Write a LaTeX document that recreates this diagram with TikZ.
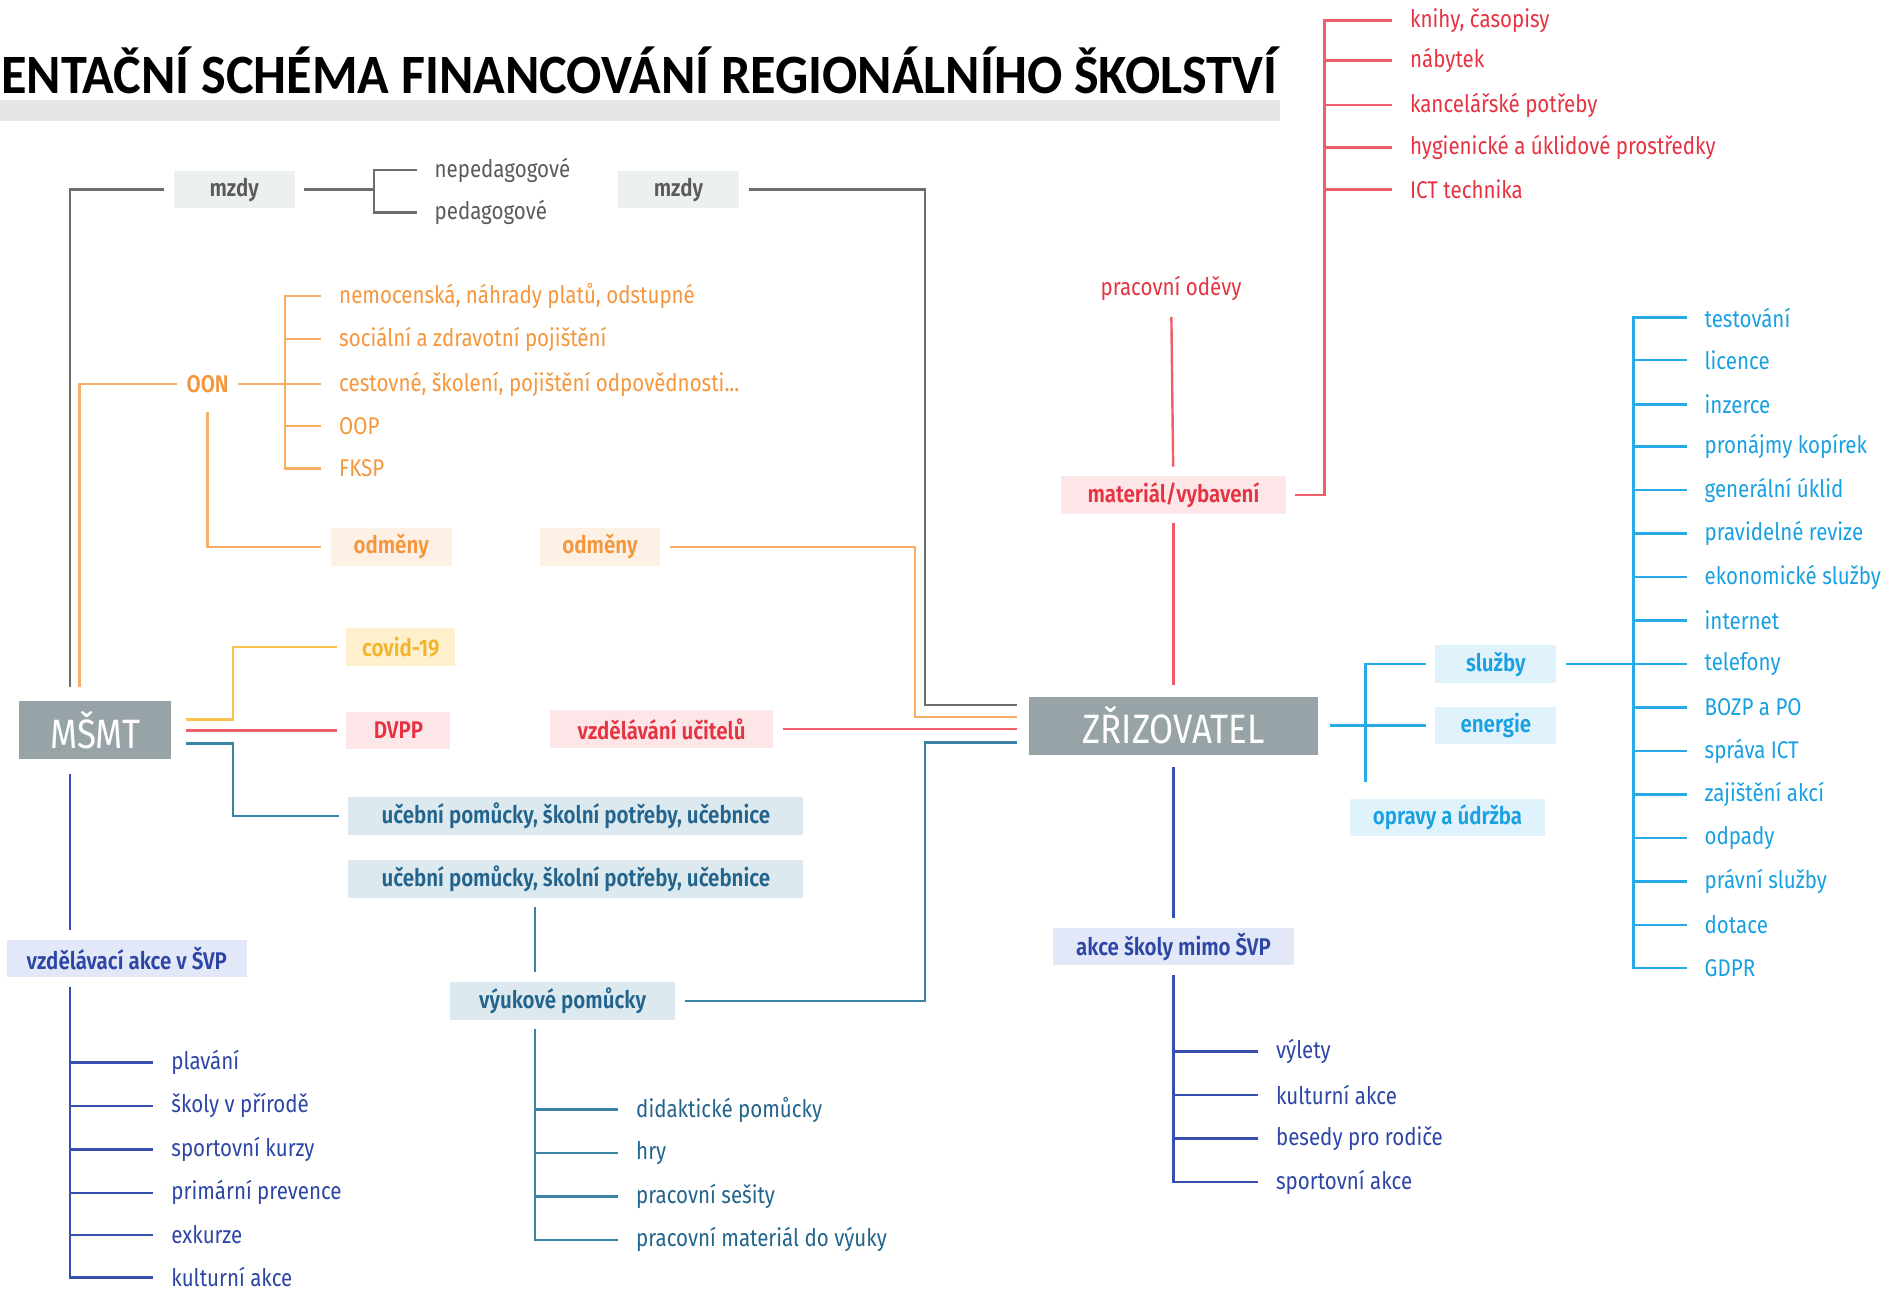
\documentclass[tikz,border=0pt]{standalone}
\usepackage{fontspec}
\setmainfont{Fira Sans}[FakeStretch=0.85,BoldFont={Fira Sans SemiBold}]
\newfontfamily\titlefont{Carlito}[FakeStretch=0.94]

\definecolor{greytxt}{RGB}{90,90,90}
\definecolor{greyline}{RGB}{110,110,110}
\definecolor{greybox}{RGB}{236,240,241}
\definecolor{bigfill}{RGB}{152,163,168}
\definecolor{titlebar}{RGB}{230,230,230}
\definecolor{otxt}{RGB}{245,150,60}
\definecolor{oline}{RGB}{248,175,100}
\definecolor{obox}{RGB}{253,240,228}
\definecolor{ytxt}{RGB}{245,180,40}
\definecolor{yline}{RGB}{250,195,80}
\definecolor{ybox}{RGB}{255,240,205}
\definecolor{rtxt}{RGB}{230,50,65}
\definecolor{rline}{RGB}{240,95,105}
\definecolor{rbox}{RGB}{252,230,232}
\definecolor{ttxt}{RGB}{35,100,140}
\definecolor{tline}{RGB}{60,130,165}
\definecolor{tbox}{RGB}{220,233,239}
\definecolor{itxt}{RGB}{45,70,165}
\definecolor{iline}{RGB}{55,80,175}
\definecolor{ibox}{RGB}{226,232,248}
\definecolor{stxt}{RGB}{25,160,225}
\definecolor{sline}{RGB}{40,170,230}
\definecolor{sbox}{RGB}{224,243,253}

\begin{document}
\begin{tikzpicture}
  [x=0.5pt,y=-0.5pt,line width=1pt,font=\fontsize{10}{12}\selectfont,
   box/.style={rectangle,inner sep=0pt,minimum height=15.5pt,outer sep=4pt,
     font=\fontsize{10}{12}\selectfont\bfseries},
   leaf/.style={anchor=west,inner xsep=7pt,inner ysep=1pt},
   big/.style={rectangle,fill=bigfill,text=white,minimum height=24pt,inner sep=0pt,
     font=\fontsize{17}{19}\selectfont}]
  \useasboundingbox (0,0) rectangle (1568,1073);

  % title
  \fill[titlebar] (0,83) rectangle (1060,100);
  \node[anchor=west,inner sep=0pt,font=\titlefont\fontsize{23}{26}\selectfont\bfseries]
    (title) at (0,58) {ENTAČNÍ SCHÉMA FINANCOVÁNÍ REGIONÁLNÍHO ŠKOLSTVÍ};

  % main blocks
  \node[big,minimum width=63pt,outer sep=6pt] (msmt) at (79,605) {MŠMT};
  \node[big,minimum width=120pt,outer sep=5pt] (zriz) at (972,601) {ZŘIZOVATEL};

  \coordinate (colA) at (58,0);
  \coordinate (colB) at (66,0);
  \coordinate (colY) at (193,0);
  \coordinate (colP) at (443,0);
  \coordinate (colR) at (1097,0);
  \coordinate (colK) at (1353,0);

  % mzdy
  \node[box,fill=greybox,text=greytxt,minimum width=50pt] (mzdyA) at (194,157) {mzdy};
  \node[box,fill=greybox,text=greytxt,minimum width=50pt] (mzdyB) at (562,157) {mzdy};
  \node[leaf,text=greytxt] (nep) at (345,141) {nepedagogové};
  \node[leaf,text=greytxt] (ped) at (345,176) {pedagogové};
  \coordinate (brA) at (310,157);
  \coordinate (zG) at (766,584);
  \draw[greyline] (mzdyA.west) -| (msmt.north -| colA);
  \draw[greyline] (mzdyA.east) -- (brA);
  \draw[greyline] (brA) |- (nep.west);
  \draw[greyline] (brA) |- (ped.west);
  \draw[greyline] (mzdyB.east) -| (zG) -- (zriz.west |- zG);

  % OON
  \node[box,text=otxt] (oon) at (172,318) {OON};
  \foreach \n/\y/\t in {o1/245/{nemocenská, náhrady platů, odstupné},
                        o2/281/sociální a zdravotní pojištění,
                        o3/318/{cestovné, školení, pojištění odpovědnosti...},
                        o4/353/OOP,o5/388/FKSP}
    \node[leaf,text=otxt] (\n) at (266,\y) {\t};
  \coordinate (brO) at (236,318);
  \draw[oline] (oon.west) -| (msmt.north -| colB);
  \draw[oline] (oon.east) -- (brO);
  \foreach \n in {o1,o2,o3,o4,o5}
    \draw[oline] (brO) |- (\n.west);
  \node[box,fill=obox,text=otxt,minimum width=50pt] (odmA) at (324,453) {odměny};
  \node[box,fill=obox,text=otxt,minimum width=50pt] (odmB) at (497,453) {odměny};
  \coordinate (zO) at (758,594);
  \draw[oline] (oon.south) |- (odmA.west);
  \draw[oline] (odmB.east) -| (zO) -- (zriz.west |- zO);

  % covid, DVPP
  \coordinate (rY) at (0,596);
  \node[box,fill=ybox,text=ytxt,minimum width=45pt] (covid) at (332,536) {covid-19};
  \draw[yline] (msmt.east |- rY) -| (colY |- covid) -- (covid.west);
  \node[box,fill=rbox,text=rtxt,minimum width=43pt] (dvpp) at (330,605) {DVPP};
  \node[box,fill=rbox,text=rtxt,minimum width=92.5pt] (vzu) at (548,604) {vzdělávání učitelů};
  \draw[rline] (msmt.east |- dvpp.west) -- (dvpp.west);
  \draw[rline] (vzu.east) -- (zriz.west |- vzu.east);

  % material
  \node[box,text=rtxt,font=\fontsize{10}{12}\selectfont] (odevy) at (970,239) {pracovní oděvy};
  \node[box,fill=rbox,text=rtxt,minimum width=93pt] (mat) at (972,410) {materiál/vybavení};
  \foreach \n/\y/\t in {r1/17/{knihy, časopisy},r2/50/nábytek,r3/87/kancelářské potřeby,
                        r4/122/hygienické a úklidové prostředky,r5/157/ICT technika}
    \node[leaf,text=rtxt] (\n) at (1153,\y) {\t};
  \draw[rline] (odevy) -- (mat);
  \draw[rline] (mat) -- (zriz);
  \draw[rline] (mat.east) -| (colR |- r1.west) -- (r1.west);
  \foreach \n in {r2,r3,r4,r5}
    \draw[rline] (colR |- \n.west) -- (\n.west);

  % ucebni pomucky
  \coordinate (rT) at (0,616);
  \coordinate (zT) at (766,615);
  \node[box,fill=tbox,text=ttxt,minimum width=188.5pt] (ucA) at (477,676) {učební pomůcky, školní potřeby, učebnice};
  \node[box,fill=tbox,text=ttxt,minimum width=188.5pt] (ucB) at (477,728) {učební pomůcky, školní potřeby, učebnice};
  \node[box,fill=tbox,text=ttxt,minimum width=93pt] (vyuk) at (466,829) {výukové pomůcky};
  \foreach \n/\y/\t in {p1/919/didaktické pomůcky,p2/955/hry,p3/991/pracovní sešity,
                        p4/1027/pracovní materiál do výuky}
    \node[leaf,text=ttxt] (\n) at (512,\y) {\t};
  \draw[tline] (msmt.east |- rT) -| (colY |- ucA) -- (ucA.west);
  \draw[tline] (ucB.south -| colP) -- (vyuk.north -| colP);
  \draw[tline] (vyuk.east) -| (zT) -- (zriz.west |- zT);
  \foreach \n in {p1,p2,p3,p4}
    \draw[tline] (vyuk.south -| colP) |- (\n.west);

  % akce
  \node[box,fill=ibox,text=itxt,minimum width=99.5pt] (vzak) at (105,794) {vzdělávací akce v ŠVP};
  \node[box,fill=ibox,text=itxt,minimum width=99.5pt] (akce) at (972,784) {akce školy mimo ŠVP};
  \foreach \n/\y/\t in {a1/880/plavání,a2/916/školy v přírodě,a3/952/sportovní kurzy,
                        a4/988/primární prevence,a5/1023/exkurze,a6/1058/kulturní akce}
    \node[leaf,text=itxt] (\n) at (127,\y) {\t};
  \foreach \n/\y/\t in {z1/871/výlety,z2/907/kulturní akce,z3/943/besedy pro rodiče,
                        z4/979/sportovní akce}
    \node[leaf,text=itxt] (\n) at (1042,\y) {\t};
  \draw[iline] (msmt.south -| colA) -- (vzak.north -| colA);
  \foreach \n in {a1,a2,a3,a4,a5,a6}
    \draw[iline] (vzak.south -| colA) |- (\n.west);
  \draw[iline] (zriz) -- (akce);
  \foreach \n in {z1,z2,z3,z4}
    \draw[iline] (akce.south) |- (\n.west);

  % sluzby
  \coordinate (sEnd) at (1131,648);
  \node[box,fill=sbox,text=stxt,minimum width=50pt] (sluzby) at (1239,550) {služby};
  \node[box,fill=sbox,text=stxt,minimum width=50pt] (energie) at (1239,601) {energie};
  \node[box,fill=sbox,text=stxt,minimum width=80.5pt] (opravy) at (1199,677) {opravy a údržba};
  \foreach \n/\y/\t in {s1/263/testování,s2/298/licence,s3/335/inzerce,s4/370/pronájmy kopírek,
                        s5/406/generální úklid,s6/442/pravidelné revize,s7/478/ekonomické služby,
                        s8/514/internet,s9/550/telefony,s10/586/BOZP a PO,s11/622/správa ICT,
                        s12/658/zajištění akcí,s13/694/odpady,s14/730/právní služby,
                        s15/766/dotace,s16/802/GDPR}
    \node[leaf,text=stxt] (\n) at (1397,\y) {\t};
  \draw[sline] (zriz.east) -- (energie.west);
  \draw[sline] (sluzby.west) -| (sEnd);
  \draw[sline] (sluzby.east) -- (s9.west);
  \foreach \n in {s1,s2,s3,s4,s5,s6,s7,s8,s10,s11,s12,s13,s14,s15,s16}
    \draw[sline] (colK |- s9.west) |- (\n.west);

\end{tikzpicture}
\end{document}
